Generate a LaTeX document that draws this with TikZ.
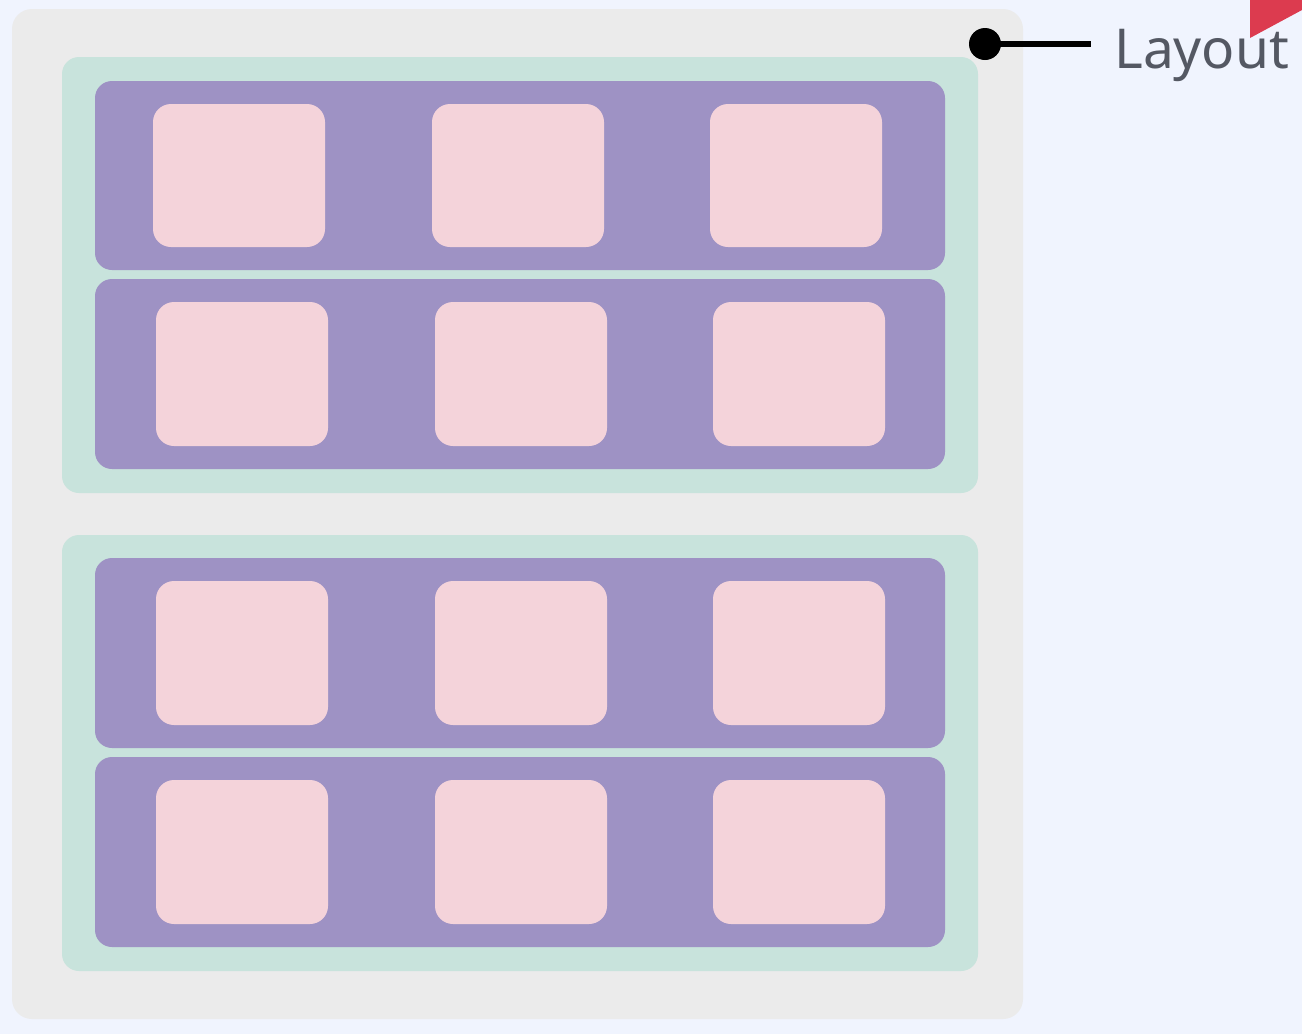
\documentclass[tikz,border=0pt]{standalone}
\usepackage{fontspec}
\setmainfont{Noto Sans}
\definecolor{bgc}{HTML}{F0F4FE}
\definecolor{outerc}{HTML}{EBEBEB}
\definecolor{tealc}{HTML}{C8E3DC}
\definecolor{purpc}{HTML}{9E92C4}
\definecolor{pinkc}{HTML}{F4D3DA}
\definecolor{textc}{HTML}{545863}
\definecolor{redc}{HTML}{DC3B4F}
\begin{document}
\begin{tikzpicture}[x=1pt,y=-1pt,
  outerbox/.style={fill=outerc,rounded corners=20pt},
  tealbox/.style={fill=tealc,rounded corners=17pt},
  purpbox/.style={fill=purpc,rounded corners=17pt},
  pinkbox/.style={fill=pinkc,rounded corners=18pt}]
\fill[bgc] (0,0) rectangle (1302,1034);
\useasboundingbox (0,0) rectangle (1302,1034);
\path[outerbox] (12,9) rectangle (1023,1019);
\path[tealbox] (62,57) rectangle (978,493);
\path[tealbox] (62,535) rectangle (978,971);
\foreach \a/\b in {81/270,279/469,558/748,757/947}{
  \path[purpbox] (95,\a) rectangle (945,\b);
}
\foreach \x in {153,432,710}{
  \path[pinkbox] (\x,104) rectangle ++(172,143);
}
\foreach \y in {302,581,780}{
  \foreach \x in {156,435,713}{
    \path[pinkbox] (\x,\y) rectangle ++(172,144);
  }
}
\coordinate (dot) at (985,44);
\coordinate (lineend) at (1091,44);
\node[anchor=base west,text=textc,font=\fontsize{55}{60}\selectfont,inner sep=0pt] (lbl) at (1114,68) {Layout};
\fill[black] (dot) circle (16);
\draw[black,line width=5.5pt] (dot) -- (lineend);
\fill[redc] (1250,0) -- (1302,0) -- (1302,10) -- (1250,38) -- cycle;
\end{tikzpicture}
\end{document}
